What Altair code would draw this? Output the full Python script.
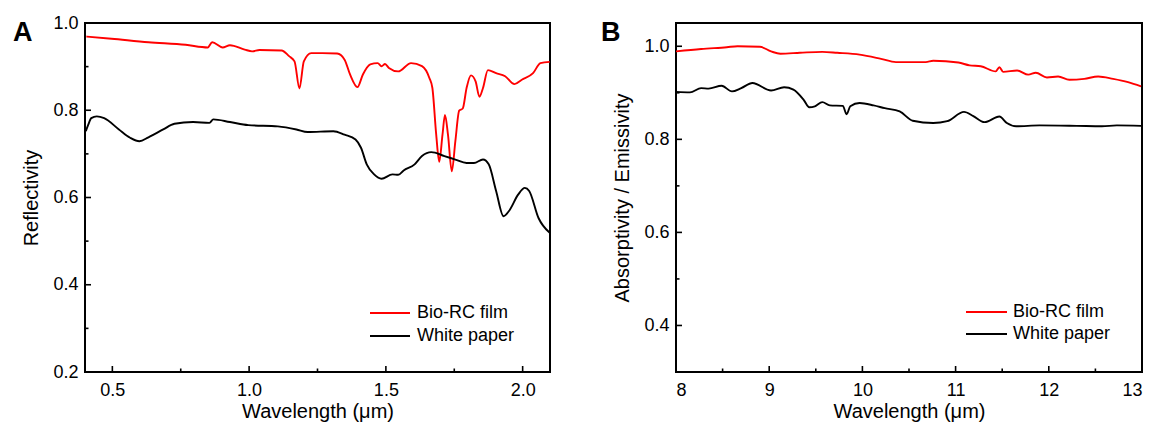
import altair as alt
import pandas as pd

# ---------------- Panel A data (Reflectivity, 0.4-2.1 um) ----------------
a_red_x = [0.405, 0.497, 0.632, 0.768, 0.849, 0.865, 0.903, 0.93, 0.984, 1.011, 1.038, 1.119,
           1.146, 1.166, 1.184, 1.2, 1.227, 1.268, 1.322, 1.349, 1.369, 1.396, 1.416, 1.443,
           1.47, 1.484, 1.497, 1.511, 1.545, 1.592, 1.632, 1.659, 1.670, 1.684, 1.695, 1.707,
           1.716, 1.727, 1.741, 1.754, 1.768, 1.781, 1.795, 1.811, 1.828, 1.842, 1.855, 1.873,
           1.903, 1.936, 1.970, 1.997, 2.038, 2.065, 2.099]
a_red_y = [0.969, 0.964, 0.956, 0.950, 0.944, 0.956, 0.944, 0.949, 0.939, 0.935, 0.938, 0.937,
           0.924, 0.912, 0.850, 0.912, 0.931, 0.931, 0.930, 0.916, 0.882, 0.853, 0.882, 0.905,
           0.908, 0.901, 0.906, 0.897, 0.889, 0.908, 0.901, 0.874, 0.851, 0.744, 0.682, 0.744,
           0.789, 0.744, 0.660, 0.729, 0.799, 0.804, 0.851, 0.880, 0.866, 0.831, 0.851, 0.892,
           0.885, 0.878, 0.860, 0.870, 0.885, 0.908, 0.911]
a_blk_x = [0.403, 0.412, 0.423, 0.443, 0.470, 0.524, 0.565, 0.599, 0.632, 0.686, 0.727, 0.795,
           0.855, 0.869, 0.930, 0.997, 1.105, 1.173, 1.214, 1.308, 1.349, 1.389, 1.409, 1.430,
           1.457, 1.484, 1.524, 1.545, 1.565, 1.605, 1.632, 1.666, 1.714, 1.754, 1.795, 1.822,
           1.855, 1.876, 1.903, 1.930, 1.950, 1.984, 2.008, 2.024, 2.058, 2.099]
a_blk_y = [0.752, 0.767, 0.782, 0.786, 0.782, 0.756, 0.737, 0.729, 0.738, 0.756, 0.769, 0.773,
           0.771, 0.779, 0.773, 0.766, 0.763, 0.756, 0.750, 0.752, 0.744, 0.733, 0.714, 0.676,
           0.653, 0.643, 0.653, 0.652, 0.662, 0.676, 0.695, 0.704, 0.695, 0.687, 0.679, 0.679,
           0.687, 0.676, 0.615, 0.557, 0.569, 0.607, 0.622, 0.615, 0.553, 0.519]

# ---------------- Panel B data (Absorptivity/Emissivity, 8-13 um) ----------------
b_red_x = [8.0, 8.27, 8.545, 8.66, 8.90, 9.02, 9.12, 9.33, 9.57, 9.73, 9.97, 10.20, 10.36,
           10.52, 10.68, 10.76, 11.03, 11.15, 11.27, 11.43, 11.47, 11.51, 11.66, 11.78, 11.86,
           11.98, 12.10, 12.22, 12.38, 12.53, 12.69, 12.85, 12.99]
b_red_y = [0.989, 0.994, 0.998, 1.000, 0.999, 0.989, 0.984, 0.986, 0.988, 0.986, 0.982, 0.973,
           0.966, 0.966, 0.966, 0.969, 0.965, 0.959, 0.957, 0.946, 0.955, 0.945, 0.948, 0.939,
           0.943, 0.933, 0.935, 0.928, 0.930, 0.935, 0.930, 0.923, 0.914]
b_blk_x = [8.0, 8.15, 8.27, 8.35, 8.49, 8.60, 8.70, 8.82, 9.02, 9.16, 9.26, 9.37, 9.43, 9.49,
           9.57, 9.65, 9.79, 9.83, 9.87, 9.97, 10.12, 10.24, 10.40, 10.54, 10.76, 10.91, 11.09,
           11.19, 11.31, 11.47, 11.55, 11.65, 11.90, 12.30, 12.57, 12.73, 12.99]
b_blk_y = [0.902, 0.901, 0.910, 0.909, 0.915, 0.903, 0.910, 0.921, 0.905, 0.912, 0.907, 0.885,
           0.869, 0.871, 0.880, 0.873, 0.872, 0.854, 0.871, 0.878, 0.873, 0.867, 0.860, 0.840,
           0.835, 0.839, 0.859, 0.850, 0.837, 0.849, 0.835, 0.828, 0.830, 0.829, 0.828, 0.830,
           0.829]

series_names = ["Bio-RC film", "White paper"]
series_colors = ["#ff0000", "#000000"]

a_x_major = [0.5, 1.0, 1.5, 2.0]
a_x_minor = [0.75, 1.25, 1.75]
a_y_major = [0.2, 0.4, 0.6, 0.8, 1.0]
a_y_minor = [0.3, 0.5, 0.7, 0.9]
b_x_major = [8, 9, 10, 11, 12, 13]
b_x_minor = [8.5, 9.5, 10.5, 11.5, 12.5]
b_y_major = [0.4, 0.6, 0.8, 1.0]
b_y_minor = [0.5, 0.7, 0.9]

FONT = "Liberation Sans"
W_A, W_B, H = 465, 466, 349


def long_df(rx, ry, bx, by):
    return pd.concat([
        pd.DataFrame({"x": rx, "y": ry, "s": series_names[0], "o": range(len(rx))}),
        pd.DataFrame({"x": bx, "y": by, "s": series_names[1], "o": range(len(bx))}),
    ])


def axis(vals, fmt, title, lp, tp):
    return alt.Axis(values=vals, format=fmt, ticks=False, domain=False, grid=False,
                    labelPadding=lp, titlePadding=tp, title=title,
                    labelFont=FONT, titleFont=FONT, labelFontSize=18, titleFontSize=20,
                    labelColor="black", titleColor="black", titleFontWeight="normal")


def panel(df, xdom, ydom, xmaj, xmin, ymaj, ymin, xfmt, ytitle, letter, width,
          leg_x0, leg_x1, leg_tx, leg_y, letter_dx):
    xs = alt.Scale(domain=xdom, nice=False, zero=False)
    ys = alt.Scale(domain=ydom, nice=False, zero=False)
    xaxis = axis(xmaj, xfmt, "Wavelength (μm)", 9, 2)
    yaxis = axis(ymaj, ".1f", ytitle, 7, 11)
    color = alt.Color("s:N", scale=alt.Scale(domain=series_names, range=series_colors),
                      legend=None)
    lines = alt.Chart(df).mark_line(strokeWidth=1.9, interpolate="monotone", clip=True).encode(
        x=alt.X("x:Q", scale=xs, axis=xaxis),
        y=alt.Y("y:Q", scale=ys, axis=yaxis),
        color=color, order="o:Q")
    layers = [lines]
    # inward tick marks on bottom and left
    for vals, ln in ((xmaj, 6), (xmin, 3.5)):
        layers.append(alt.Chart(pd.DataFrame({"v": vals})).mark_rule(
            color="black", strokeWidth=1.6).encode(
            x=alt.X("v:Q", scale=xs), y=alt.value(H), y2=alt.value(H - ln)))
    for vals, ln in ((ymaj, 6), (ymin, 3.5)):
        layers.append(alt.Chart(pd.DataFrame({"v": vals})).mark_rule(
            color="black", strokeWidth=1.6).encode(
            y=alt.Y("v:Q", scale=ys), x=alt.value(0), x2=alt.value(ln)))
    # legend
    for i, name in enumerate(series_names):
        ld = pd.DataFrame({"s": [name]})
        layers.append(alt.Chart(ld).mark_rule(strokeWidth=2).encode(
            x=alt.value(leg_x0), x2=alt.value(leg_x1), y=alt.value(leg_y[i]), color=color))
        layers.append(alt.Chart(ld).mark_text(align="left", baseline="middle", fontSize=18,
                                               font=FONT, color="black").encode(
            x=alt.value(leg_tx), y=alt.value(leg_y[i]), text="s:N"))
    # panel letter
    layers.append(alt.Chart(pd.DataFrame({"t": [letter]})).mark_text(
        align="left", baseline="alphabetic", fontSize=27, fontWeight="bold", font=FONT,
        color="black").encode(x=alt.value(letter_dx), y=alt.value(18), text="t:N"))
    return alt.layer(*layers).properties(width=width, height=H)


pa = panel(long_df(a_red_x, a_red_y, a_blk_x, a_blk_y), [0.4, 2.1], [0.2, 1.0],
           a_x_major, a_x_minor, a_y_major, a_y_minor, ".1f", "Reflectivity", "A", W_A,
           285, 325, 332, [290, 313], -72)
pb = panel(long_df(b_red_x, b_red_y, b_blk_x, b_blk_y), [8, 13], [0.3, 1.05],
           b_x_major, b_x_minor, b_y_major, b_y_minor, "d", "Absorptivity / Emissivity", "B",
           W_B, 290, 331, 337, [289, 311], -75)

chart = alt.hconcat(pa, pb, spacing=49).properties(
    padding={"left": 12, "top": 13, "right": 2, "bottom": 2},
    background="white"
).configure_view(stroke="black", strokeWidth=2)

chart.save("out.html", embed_options={"renderer": "svg", "actions": False})
